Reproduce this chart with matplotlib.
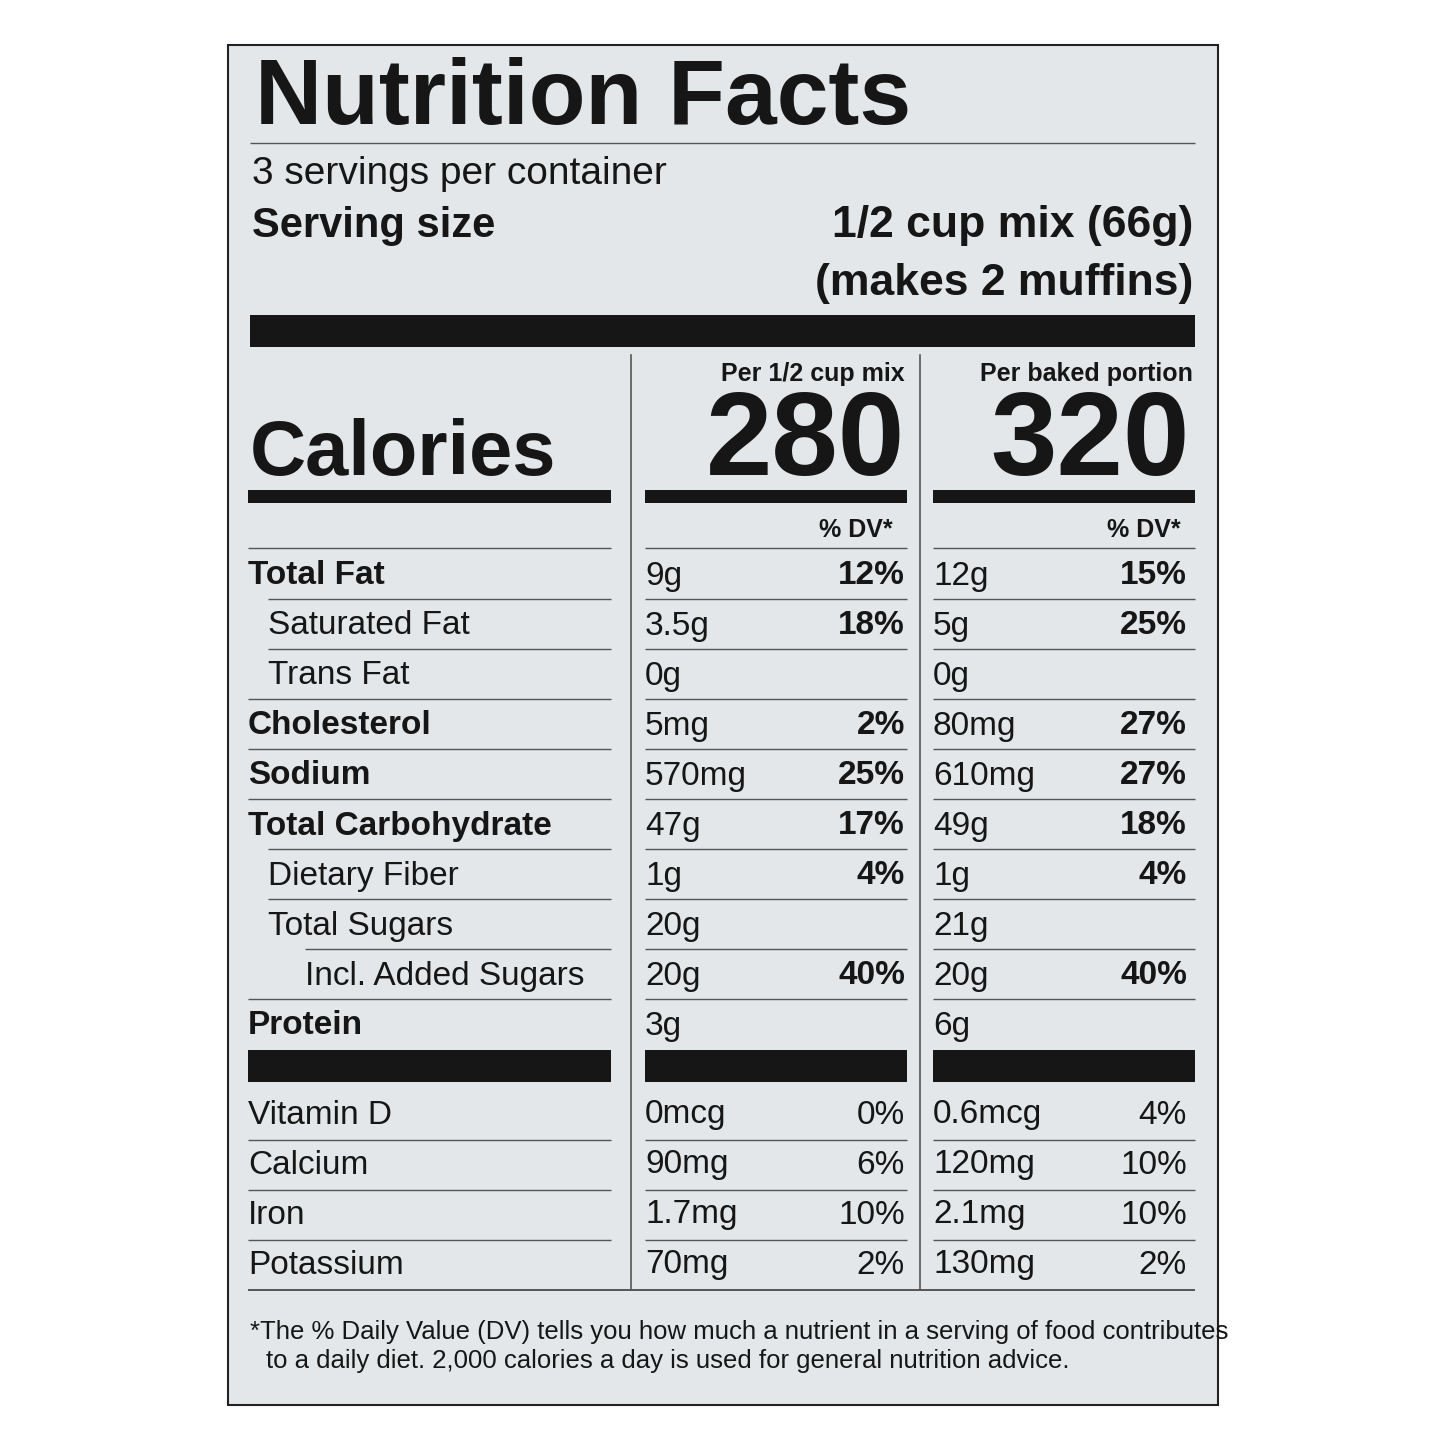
import matplotlib
matplotlib.use("Agg")
import matplotlib.pyplot as plt
from matplotlib.patches import Rectangle

plt.rcParams["font.family"] = ["Liberation Sans Narrow", "Liberation Sans", "DejaVu Sans"]

# ── data ─────────────────────────────────────────────
nutrients = ["Total Fat", "Saturated Fat", "Trans Fat", "Cholesterol", "Sodium",
             "Total Carbohydrate", "Dietary Fiber", "Total Sugars",
             "Incl. Added Sugars", "Protein"]
indent    = [0, 1, 1, 0, 0, 0, 1, 1, 2, 0]
bold_name = [True, False, False, True, True, True, False, False, False, True]
mix_amt   = ["9g", "3.5g", "0g", "5mg", "570mg", "47g", "1g", "20g", "20g", "3g"]
mix_dv    = ["12%", "18%", "", "2%", "25%", "17%", "4%", "", "40%", ""]
baked_amt = ["12g", "5g", "0g", "80mg", "610mg", "49g", "1g", "21g", "20g", "6g"]
baked_dv  = ["15%", "25%", "", "27%", "27%", "18%", "4%", "", "40%", ""]

vitamins  = ["Vitamin D", "Calcium", "Iron", "Potassium"]
vit_mix   = ["0mcg", "90mg", "1.7mg", "70mg"]
vit_mixdv = ["0%", "6%", "10%", "2%"]
vit_bake  = ["0.6mcg", "120mg", "2.1mg", "130mg"]
vit_bakdv = ["4%", "10%", "10%", "2%"]

cal_mix, cal_baked = "280", "320"

# ── layout ───────────────────────────────────────────
fig = plt.figure(figsize=(14.45, 14.45), dpi=100)
ax = fig.add_axes([0, 0, 1, 1])
ax.set_xlim(0, 1445)
ax.set_ylim(1445, 0)
ax.axis("off")

ax.add_patch(Rectangle((228, 45), 990, 1360, facecolor="#e3e7e9", edgecolor="#222222", lw=1.5))

K = "#161616"
BF = ["Liberation Sans", "DejaVu Sans"]
L0, L1 = 248, 611
M0, M1 = 645, 907
R0, R1 = 933, 1195

def hline(y, x0, x1, lw=1.0, c="#555555"):
    ax.plot([x0, x1], [y, y], color=c, lw=lw, solid_capstyle="butt")

def bar(y0, h, x0, x1):
    ax.add_patch(Rectangle((x0, y0), x1 - x0, h, facecolor=K, edgecolor="none"))

ax.text(255, 100, "Nutrition Facts", fontsize=67, fontweight="bold", va="center", family=BF, color=K)
hline(143, 250, 1195)
ax.text(252, 174, "3 servings per container", fontsize=28, va="center", color=K)
ax.text(252, 226, "Serving size", fontsize=30, fontweight="bold", va="center", family=BF, color=K)
ax.text(1193, 226, "1/2 cup mix (66g)", fontsize=32, fontweight="bold", va="center", ha="right",
        family=BF, color=K)
ax.text(1193, 283, "(makes 2 muffins)", fontsize=32, fontweight="bold", va="center", ha="right",
        family=BF, color=K)
bar(315, 32, 250, 1195)

# column dividers
for x in (631, 920):
    ax.plot([x, x], [355, 1290], color="#555555", lw=1.2)

ax.text(905, 374, "Per 1/2 cup mix", fontsize=18, fontweight="bold", ha="right", va="center",
        family=BF, color=K)
ax.text(1193, 374, "Per baked portion", fontsize=18, fontweight="bold", ha="right", va="center",
        family=BF, color=K)
ax.text(250, 455, "Calories", fontsize=56, fontweight="bold", va="center", family=BF, color=K)
ax.text(905, 445, cal_mix, fontsize=86, fontweight="bold", ha="right", va="center", family=BF, color=K)
ax.text(1190, 445, cal_baked, fontsize=86, fontweight="bold", ha="right", va="center", family=BF, color=K)
for x0, x1 in ((L0, L1), (M0, M1), (R0, R1)):
    bar(490, 13, x0, x1)
    hline(548, x0, x1)

ax.text(893, 530, "% DV*", fontsize=18, fontweight="bold", ha="right", va="center", family=BF, color=K)
ax.text(1181, 530, "% DV*", fontsize=18, fontweight="bold", ha="right", va="center", family=BF, color=K)

FS = 24
for i, name in enumerate(nutrients):
    y = 576 + 50 * i
    ax.text(L0 + [0, 20, 57][indent[i]], y, name, fontsize=FS, va="center", color=K,
            fontweight="bold" if bold_name[i] else "normal")
    ax.text(M0, y, mix_amt[i], fontsize=FS, va="center", color=K)
    ax.text(905, y, mix_dv[i], fontsize=FS, va="center", ha="right", fontweight="bold", color=K)
    ax.text(R0, y, baked_amt[i], fontsize=FS, va="center", color=K)
    ax.text(1187, y, baked_dv[i], fontsize=FS, va="center", ha="right", fontweight="bold", color=K)
    if i < len(nutrients) - 1:
        for x0, x1 in ((L0 + [0, 20, 57][indent[i + 1]], L1), (M0, M1), (R0, R1)):
            hline(y + 23, x0, x1)

for x0, x1 in ((L0, L1), (M0, M1), (R0, R1)):
    bar(1050, 32, x0, x1)

for i, name in enumerate(vitamins):
    y = 1115 + 50 * i
    ax.text(L0, y, name, fontsize=FS, va="center", color=K)
    ax.text(M0, y, vit_mix[i], fontsize=FS, va="center", color=K)
    ax.text(905, y, vit_mixdv[i], fontsize=FS, va="center", ha="right", color=K)
    ax.text(R0, y, vit_bake[i], fontsize=FS, va="center", color=K)
    ax.text(1187, y, vit_bakdv[i], fontsize=FS, va="center", ha="right", color=K)
    if i < len(vitamins) - 1:
        for x0, x1 in ((L0, L1), (M0, M1), (R0, R1)):
            hline(y + 25, x0, x1)

hline(1290, 248, 1195, lw=1.4)
ax.text(250, 1332, "*The % Daily Value (DV) tells you how much a nutrient in a serving of food contributes",
        fontsize=18.5, va="center", color=K, family=BF)
ax.text(266, 1361, "to a daily diet. 2,000 calories a day is used for general nutrition advice.",
        fontsize=18.5, va="center", color=K, family=BF)

fig.savefig("out.png", dpi=100, facecolor="white")
